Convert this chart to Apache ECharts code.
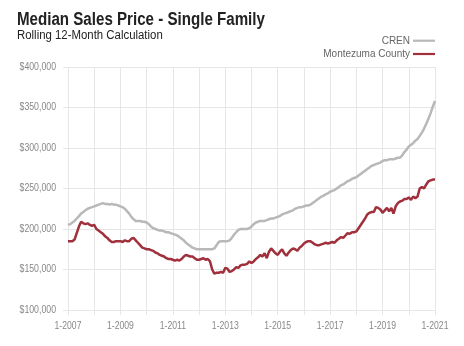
<!DOCTYPE html>
<html>
<head>
<meta charset="utf-8">
<script src="https://cdn.jsdelivr.net/npm/echarts@6/dist/echarts.min.js"></script>
<style>
  html, body { margin: 0; padding: 0; background: #fff; }
  #chart { width: 464px; height: 346px; }
</style>
</head>
<body>
<div id="chart"></div>
<script>
// Monthly rolling 12-month median sales price, Jan 2007 – Jan 2021 (thousands of dollars)
const startYear = 2007;
const endYear = 2021;

const crenValues = [
  205, 206, 208, 210, 213, 216, 219, 221, 223, 225, 226, 227,
  228, 229, 230, 231, 232, 231, 231, 230, 231, 230, 230, 229,
  228, 227, 225, 222, 219, 215, 212, 210, 210, 210, 209, 209,
  208, 206, 203, 201, 200, 199, 198, 198, 197, 196, 196, 195,
  194, 193, 192, 190, 188, 186, 183, 181, 179, 177, 176, 175,
  175, 175, 175, 175, 175, 175, 175, 176, 180, 184, 185, 185,
  185, 185, 186, 189, 193, 196, 199, 200, 200, 200, 200, 201,
  203, 206, 208, 209, 210, 210, 210, 211, 212, 213, 213, 214,
  215, 216, 218, 219, 220, 221, 222, 223, 225, 226, 227, 227,
  228, 229, 229, 230, 232, 234, 236, 238, 240, 241, 243, 244,
  246, 247, 248, 250, 252, 254, 255, 257, 259, 260, 262, 263,
  264, 266, 268, 270, 272, 274, 276, 278, 279, 280, 281, 282,
  284, 285, 285, 286, 286, 286, 287, 288, 288, 291, 295, 298,
  302, 304, 306, 309, 311, 315, 319, 324, 330, 336, 343, 351,
  358
];

const montezumaValues = [
  185, 185, 185, 187, 195, 203, 209, 207, 206, 207, 205, 204,
  205, 200, 198, 196, 194, 191, 189, 186, 184, 184, 185, 185,
  185, 184, 186, 185, 185, 188, 189, 186, 183, 180, 177, 176,
  175, 175, 174, 173, 171, 170, 168, 167, 166, 164, 163, 163,
  162, 161, 162, 161, 163, 166, 168, 167, 166, 166, 164, 162,
  162, 163, 164, 162, 163, 160, 150, 145, 146, 146, 147, 146,
  152, 151, 147, 148, 150, 153, 152, 155, 156, 156, 157, 160,
  158, 160, 163, 165, 168, 166, 170, 164, 172, 176, 173, 170,
  168, 172, 175, 170, 167, 171, 174, 176, 175, 173, 177, 179,
  182, 184, 185, 185, 183, 181, 180, 180, 181, 182, 183, 182,
  183, 184, 183, 186, 188, 190, 189, 192, 195, 194, 196, 196,
  197, 201, 205, 209, 213, 218, 220, 221, 221, 227, 226, 224,
  220, 223, 226, 222, 226, 219, 228, 232, 234, 235, 237, 237,
  239, 236, 240, 238, 240, 250, 252, 250, 255, 259, 260, 261,
  261
];

const yTicks = [100, 150, 200, 250, 300, 350, 400];
const seriesNames = ['CREN', 'Montezuma County'];
const seriesColors = ['#b8b8b8', '#a0303b'];

// Month labels "M-YYYY"
const months = [];
for (let y = startYear; y <= endYear; y++) {
  for (let m = 1; m <= 12; m++) {
    months.push(m + '-' + y);
    if (y === endYear) break;
  }
}
// Axis labels shown every other January
const xLabelIndex = months.map((_, i) => i).filter(i => i % 24 === 0);

const SANS = '"Liberation Sans", Arial, sans-serif';
const GRID_COLOR = '#e6e6e6';
const chart = echarts.init(document.getElementById('chart'), null, { renderer: 'canvas' });

chart.setOption({
  animation: false,
  backgroundColor: '#ffffff',
  grid: { left: 68, right: 29, top: 67, bottom: 36 },
  xAxis: {
    type: 'category',
    data: months,
    boundaryGap: false,
    axisLine: { show: false },
    axisTick: {
      show: true, length: 5,
      interval: (i) => i % 12 === 0,
      lineStyle: { color: GRID_COLOR }
    },
    splitLine: {
      show: true,
      interval: (i) => i % 12 === 0,
      lineStyle: { color: GRID_COLOR, width: 1 }
    },
    axisLabel: { show: false }
  },
  yAxis: {
    type: 'value',
    min: yTicks[0],
    max: yTicks[yTicks.length - 1],
    interval: 50,
    axisLine: { show: false },
    axisTick: { show: true, length: 5, lineStyle: { color: GRID_COLOR } },
    splitLine: { lineStyle: { color: GRID_COLOR, width: 1 } },
    axisLabel: { show: false }
  },
  series: [
    {
      name: seriesNames[0],
      type: 'line',
      data: crenValues,
      showSymbol: false,
      lineStyle: { color: seriesColors[0], width: 2.5 },
      itemStyle: { color: seriesColors[0] }
    },
    {
      name: seriesNames[1],
      type: 'line',
      data: montezumaValues,
      showSymbol: false,
      lineStyle: { color: seriesColors[1], width: 2.5 },
      itemStyle: { color: seriesColors[1] }
    }
  ]
});

// Condensed text: horizontally squeezed real text placed with the chart's own scales
function label(x, y, text, opts) {
  return {
    type: 'text',
    x: x, y: y,
    scaleX: opts.scaleX || 1,
    silent: true,
    style: {
      text: text,
      font: opts.font,
      fill: opts.fill,
      textAlign: opts.align || 'left',
      textVerticalAlign: 'middle'
    }
  };
}

const gfx = [];

// Title block
gfx.push(label(17, 20, 'Median Sales Price - Single Family',
  { font: 'bold 18px ' + SANS, fill: '#222', scaleX: 0.84 }));
gfx.push(label(17, 35.5, 'Rolling 12-Month Calculation',
  { font: '12px ' + SANS, fill: '#222', scaleX: 0.95 }));

// Legend
const legendY = [40.7, 54];
seriesNames.forEach((name, k) => {
  gfx.push(label(410, legendY[k], name, { font: '11.5px ' + SANS, fill: '#666', align: 'right', scaleX: 0.87 }));
  gfx.push({
    type: 'line', silent: true,
    shape: { x1: 413, y1: legendY[k], x2: 435, y2: legendY[k] },
    style: { stroke: seriesColors[k], lineWidth: 2.2 }
  });
});

// Y axis labels
yTicks.forEach(v => {
  const p = chart.convertToPixel({ gridIndex: 0 }, [0, v]);
  gfx.push(label(p[0] - 12, p[1], '$' + v + ',000',
    { font: '10.8px ' + SANS, fill: '#888', align: 'right', scaleX: 0.81 }));
});

// X axis labels
xLabelIndex.forEach(i => {
  const p = chart.convertToPixel({ gridIndex: 0 }, [i, yTicks[0]]);
  gfx.push(label(p[0], p[1] + 16, months[i],
    { font: '10.8px ' + SANS, fill: '#888', align: 'center', scaleX: 0.8 }));
});

chart.setOption({ graphic: gfx });
</script>
</body>
</html>
